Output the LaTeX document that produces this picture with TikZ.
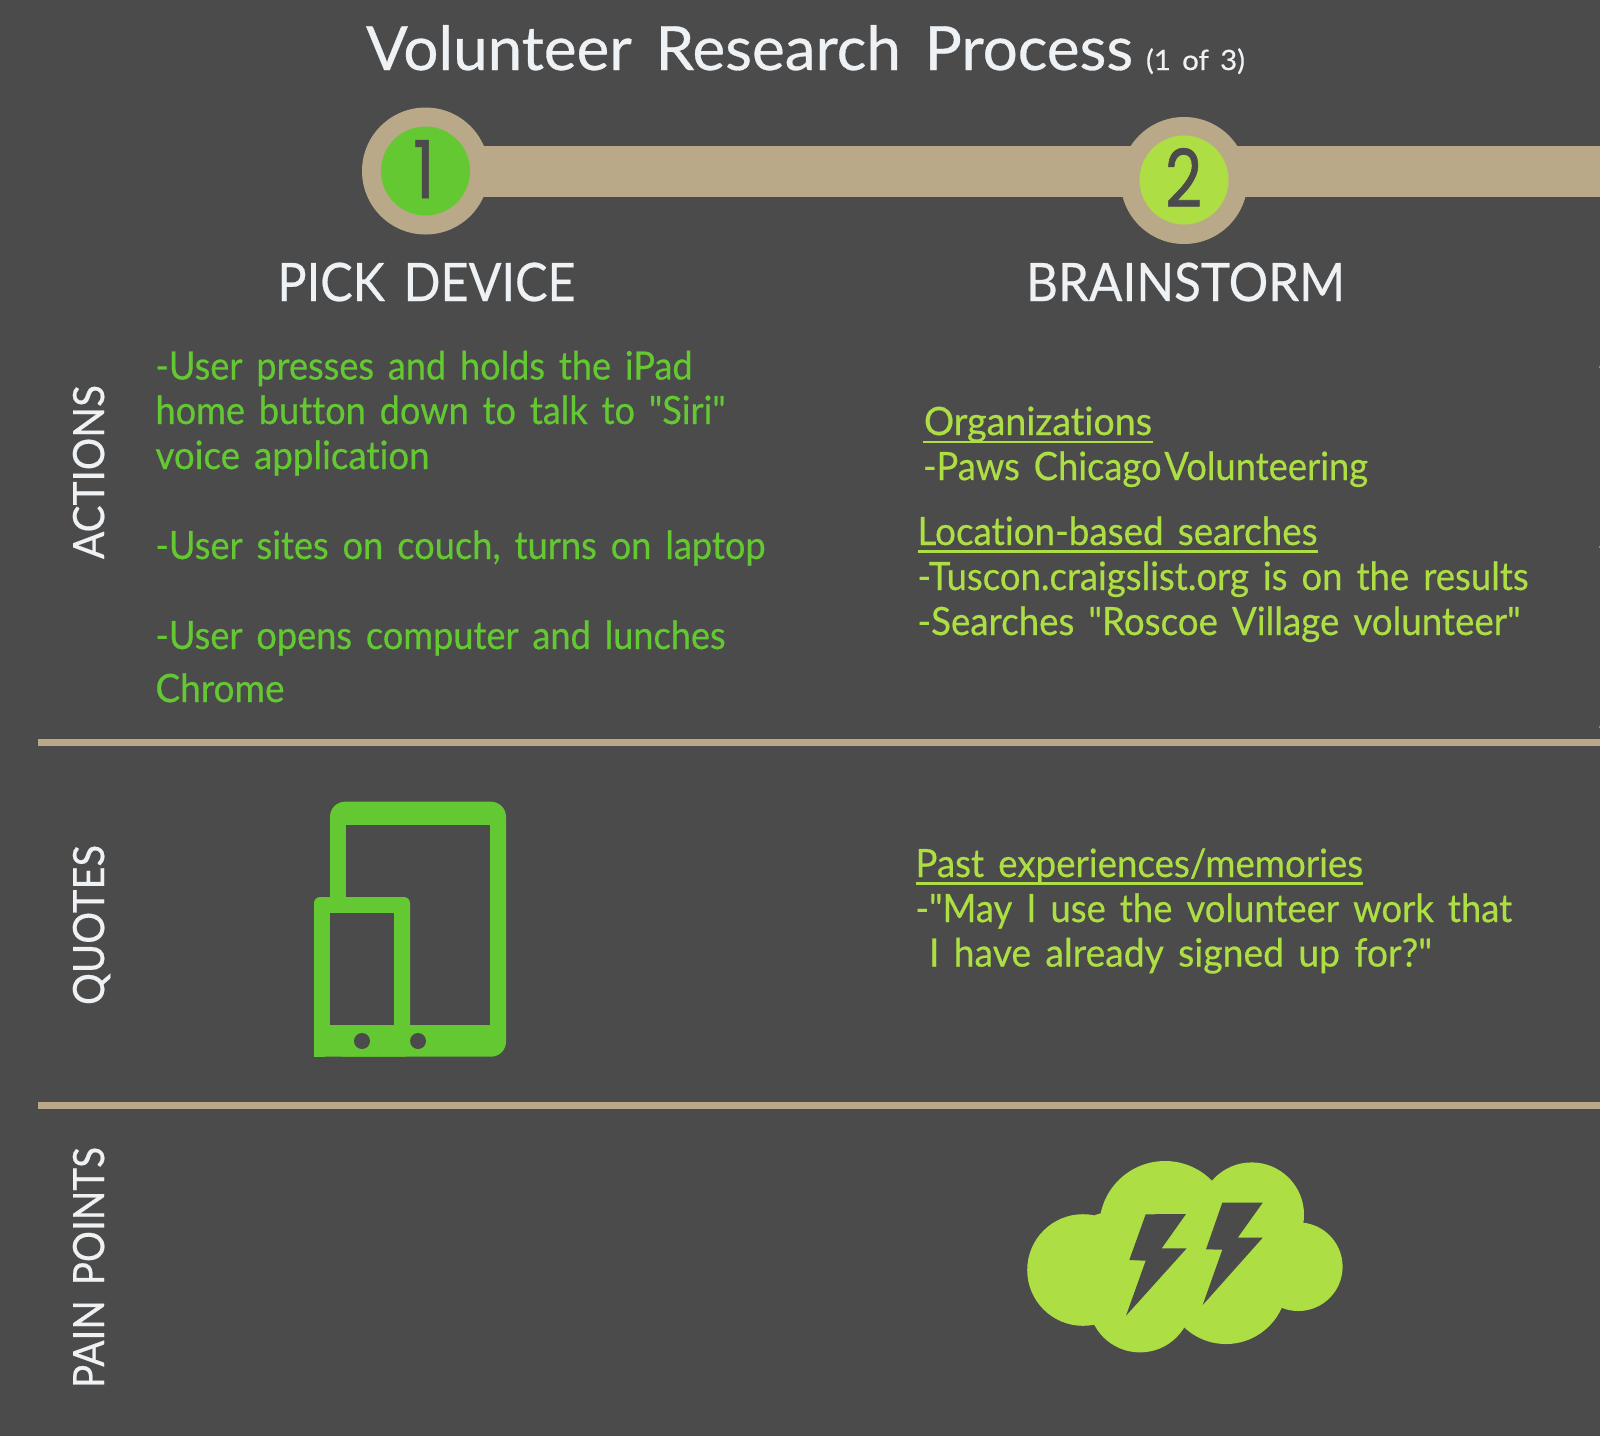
\documentclass[tikz,border=0pt]{standalone}
\usepackage{fontspec}
\usepackage{graphicx}
\setmainfont{Lato}[WordSpace=1.5,Ligatures={TeXOff,CommonOff},FakeBold=0.5]
\newfontfamily\digitfont{Poppins}[FakeBold=0.8]
\definecolor{bgc}{HTML}{4B4B4B}
\definecolor{tan}{HTML}{B9A988}
\definecolor{gA}{HTML}{64C832}
\definecolor{gB}{HTML}{ADDF44}
\definecolor{wht}{HTML}{EEF2F5}
\definecolor{speck}{HTML}{8A9A50}
\newcommand{\fitw}[2]{\resizebox{#1pt}{\height}{#2}}
\tikzset{
  txt/.style={inner sep=0pt,outer sep=0pt,anchor=base west},
  bodyA/.style={txt,text=gA,font=\fontsize{39}{39}\selectfont},
  bodyB/.style={txt,text=gB,font=\fontsize{39}{39}\selectfont},
  headt/.style={txt,text=wht,font=\fontsize{53}{53}\selectfont},
  sidet/.style={txt,text=wht,rotate=90,font=\fontsize{43}{43}\selectfont},
  digit/.style={txt,text=bgc,font=\digitfont\fontsize{80}{80}\selectfont},
  ring/.style={circle,fill=tan,inner sep=0pt,minimum size=127pt},
  hub/.style={circle,inner sep=0pt,minimum size=89pt},
  rule/.style={line width=7pt,tan},
  ul/.style={line width=2.2pt,gB}
}
\begin{document}
\begin{tikzpicture}[x=1pt,y=-1pt]
\useasboundingbox (0,0) rectangle (1600,1436);
\fill[bgc] (0,0) rectangle (1600,1436);
% title
\node[txt,text=wht,font=\fontsize{61}{61}\selectfont] (title) at (366,70) {\fitw{767}{Volunteer Research Process}};
\node[txt,text=wht,font=\fontsize{28}{28}\selectfont] (sub) at (1146,70) {\fitw{99}{(1 of 3)}};
% timeline
\fill[tan] (470,146) rectangle (1600,197);
\node[ring] (ring1) at (425.5,171) {};
\node[ring] (ring2) at (1184,180.5) {};
\node[hub,fill=gA] (hub1) at (425.5,171) {};
\node[hub,fill=gB] (hub2) at (1184,180) {};
\node[digit] (d1) at (413,198) {\fitw{22}{1}};
\node[digit] (d2) at (1165,207) {\fitw{37}{2}};
% headings
\node[headt] (h1) at (277.5,301) {\fitw{298}{PICK DEVICE}};
\node[headt] (h2) at (1026,301) {\fitw{319}{BRAINSTORM}};
% side labels
\node[sidet] (s1) at (104,559) {\fitw{174}{ACTIONS}};
\node[sidet] (s2) at (104,1005) {\fitw{160}{QUOTES}};
\node[sidet] (s3) at (104,1388) {\fitw{241}{PAIN POINTS}};
% rules
\coordinate (r1a) at (38,742); \coordinate (r1b) at (1600,742);
\coordinate (r2a) at (38,1105.5); \coordinate (r2b) at (1600,1105.5);
\draw[rule] (r1a) -- (r1b);
\draw[rule] (r2a) -- (r2b);
% left text
\node[bodyA] (a1) at (155.5,379.5) {\fitw{537}{-User presses and holds the iPad}};
\node[bodyA] (a2) at (155.5,424) {\fitw{570}{home button down to talk to "Siri"}};
\node[bodyA] (a3) at (155.5,469) {\fitw{274}{voice application}};
\node[bodyA] (a4) at (155.5,559) {\fitw{610}{-User sites on couch, turns on laptop}};
\node[bodyA] (a5) at (155.5,649) {\fitw{570}{-User opens computer and lunches}};
\node[bodyA] (a6) at (155.5,702) {\fitw{129}{Chrome}};
% right text
\node[bodyB] (b1) at (924,435) {\fitw{228}{Organizations}};
\draw[ul] ([yshift=-6.7pt,xshift=-1pt]b1.base west) -- ([yshift=-6.7pt,xshift=.5pt]b1.base east);
\node[bodyB] (b2) at (923,480) {\fitw{445}{-Paws Chicago\kern3ptVolunteering}};
\node[bodyB] (b3) at (917.5,545) {\fitw{400}{Location-based searches}};
\draw[ul] ([yshift=-6.5pt]b3.base west) -- ([yshift=-6.5pt]b3.base east);
\node[bodyB] (b4) at (917.5,590) {\fitw{611}{-Tuscon.craigslist.org is on the results}};
\node[bodyB] (b5) at (917.5,635) {\fitw{603}{-Searches "Roscoe Village volunteer"}};
\node[bodyB] (b6) at (915.5,877) {\fitw{447.5}{Past experiences/memories}};
\draw[ul] ([yshift=-6.5pt]b6.base west) -- ([yshift=-6.5pt]b6.base east);
\node[bodyB] (b7) at (915.5,922) {\fitw{596.5}{-"May I use the volunteer work that}};
\node[bodyB] (b8) at (929,966.5) {\fitw{503}{I have already signed up for?"}};
% devices
\fill[gA,rounded corners=15pt] (330,801.7) rectangle (506,1056.7);
\fill[bgc] (345.7,825) rectangle (490,1025);
\fill[bgc] (418,1041) circle (8);
\fill[gA,rounded corners=6pt] (314,897) rectangle (410,1056.7);
\fill[gA] (314,1045) rectangle (325,1056.7);
\fill[bgc] (329.7,913) rectangle (394,1025);
\fill[bgc] (362,1041) circle (8);
% cloud
\fill[gB] (1083,1270) circle (55.8);
\fill[gB] (1165,1226.7) circle (65.7);
\fill[gB] (1251.7,1214.7) circle (52.3);
\fill[gB] (1298.3,1266.7) circle (44.3);
\fill[gB] (1140,1300.7) circle (51.7);
\fill[gB] (1226,1283) circle (61);
\fill[gB] (1095,1215) -- (1165,1195) -- (1290,1215) -- (1290,1300) -- (1090,1300) -- cycle;
\fill[bgc] (1145.7,1214.3) -- (1186,1214) -- (1161.7,1248.3) -- (1186.7,1248.3) -- (1126,1315.7) -- (1145.7,1260.7) -- (1129.3,1260) -- cycle;
\fill[bgc] (1222.3,1202.7) -- (1262.7,1202.7) -- (1237.7,1237.7) -- (1262.7,1237.7) -- (1202.7,1305) -- (1222.3,1249.7) -- (1206,1249.3) -- cycle;
% edge specks
\fill[speck] (1599,366) rectangle (1600,368);
\fill[speck] (1599,546) rectangle (1600,548);
\fill[speck] (1599,726) rectangle (1600,728);
\end{tikzpicture}
\end{document}
